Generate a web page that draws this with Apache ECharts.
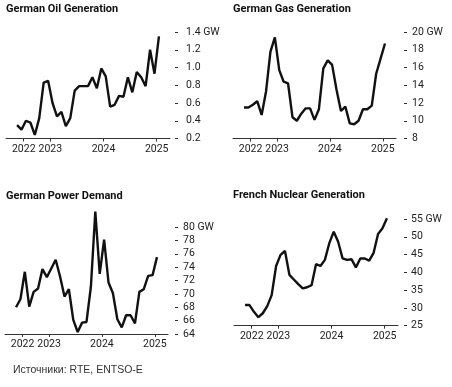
<!DOCTYPE html>
<html>
<head>
<meta charset="utf-8">
<script src="https://cdn.jsdelivr.net/npm/echarts@6/dist/echarts.min.js"></script>
<style>
html,body{margin:0;padding:0;background:#fff;}
#c{width:452px;height:387px;}
</style>
</head>
<body>
<div id="c"></div>
<script>
// Monthly data, May 2022 .. Jan 2025
var months = ['2022-05','2022-06','2022-07','2022-08','2022-09','2022-10','2022-11','2022-12',
  '2023-01','2023-02','2023-03','2023-04','2023-05','2023-06','2023-07','2023-08','2023-09','2023-10','2023-11','2023-12',
  '2024-01','2024-02','2024-03','2024-04','2024-05','2024-06','2024-07','2024-08','2024-09','2024-10','2024-11','2024-12',
  '2025-01'];
var oilValues = [0.35,0.30,0.40,0.38,0.24,0.43,0.83,0.85,0.60,0.45,0.50,0.34,0.43,0.74,0.79,0.79,0.79,0.89,0.765,0.99,0.90,0.56,0.58,0.68,0.67,0.89,0.72,0.95,0.89,0.79,1.20,0.93,1.35];
var gasValues = [11.5,11.5,11.8,12.2,10.65,13.3,17.8,19.4,15.7,14.4,14.2,10.4,10.0,10.8,11.4,11.4,10.1,11.3,15.9,16.8,16.3,13.5,11.1,11.6,9.7,9.6,10.0,11.3,11.3,11.7,15.3,17.0,18.7];
var demandValues = [68.0,69.2,73.3,68.1,70.3,70.8,73.7,72.5,73.8,75.1,72.6,69.6,70.7,66.1,64.3,65.7,65.8,71.1,82.3,73.0,78.1,71.7,70.1,66.2,65.0,66.8,66.8,65.6,70.3,70.7,72.7,72.8,75.5];
var nuclearValues = [30.8,30.8,28.9,27.4,28.5,30.5,33.6,41.8,44.9,46.0,39.3,38.0,36.7,35.5,35.8,36.4,42.3,41.8,43.5,48.2,51.4,48.6,43.9,43.5,43.7,41.4,43.9,43.9,43.3,45.5,50.8,52.4,55.2];
var yearTickLabels = ['2022','2023','2024','2025'];
var yearTickMonths = [-6, 0, 12, 24]; // months from Jan 2023
var titles = ['German Oil Generation','German Gas Generation','German Power Demand','French Nuclear Generation'];
var sourceText = 'Источники: RTE, ENTSO-E';

function monthOffset(m){ var p=m.split('-'); return (parseInt(p[0])-2023)*12 + (parseInt(p[1])-1) + 0.5; }
function pairs(vals){ return vals.map(function(v,i){ return [monthOffset(months[i]), v]; }); }

var FONT = 'Roboto, Inter, sans-serif';
var grids = [
  {left:6, top:32, width:164, height:106.5},
  {left:233, top:32, width:163, height:106.5},
  {left:5, top:227, width:163, height:107},
  {left:234, top:219, width:164, height:106.7}
];
var yCfg = [
  {min:0.2,max:1.4,interval:0.2,dec:1,offset:5,margin:11},
  {min:8,max:20,interval:2,dec:0,offset:8,margin:8},
  {min:64,max:80,interval:2,dec:0,offset:7,margin:8},
  {min:25,max:55,interval:5,dec:0,offset:6,margin:7}
];
var seriesData = [oilValues, gasValues, demandValues, nuclearValues];
var titlePos = [{left:6,top:4},{left:233,top:4},{left:6,top:191},{left:233,top:190}];

var option = {
  animation:false,
  backgroundColor:'#fff',
  title: titles.map(function(t,i){ return {text:t,left:titlePos[i].left,top:titlePos[i].top,padding:0,
      textStyle:{fontFamily:FONT,fontSize:11,fontWeight:'bold',color:'#111'}}; }).concat([
      {text:sourceText,left:13,top:365,padding:0,textStyle:{fontFamily:'Liberation Sans, Arial, sans-serif',fontSize:10.5,fontWeight:'normal',color:'#333'}}]),
  grid: grids,
  xAxis: grids.map(function(g,i){ return {
    type:'value', gridIndex:i, min:-10, max:27,
    splitLine:{show:false},
    axisLine:{show:true,onZero:false,lineStyle:{color:'#333',width:1}},
    axisTick:{show:true,length:3,customValues:yearTickMonths,lineStyle:{color:'#333'}},
    axisLabel:{show:true,customValues:yearTickMonths,margin:5,fontFamily:FONT,fontSize:10.5,color:'#222',
      formatter:function(v){ var k=yearTickMonths.indexOf(v); return k>=0?yearTickLabels[k]:''; }}
  }; }),
  yAxis: yCfg.map(function(c,i){ return {
    type:'value', gridIndex:i, position:'right', offset:c.offset,
    min:c.min, max:c.max, interval:c.interval,
    splitLine:{show:false},
    axisLine:{show:false,onZero:false},
    axisTick:{show:true,length:3,lineStyle:{color:'#333'}},
    axisLabel:{margin:c.margin,fontFamily:FONT,fontSize:10.5,color:'#222',
      formatter:function(v){ var s=v.toFixed(c.dec); return Math.abs(v-c.max)<1e-6 ? s+' GW' : s; }}
  }; }),
  series: seriesData.map(function(d,i){ return {
    type:'line', xAxisIndex:i, yAxisIndex:i, data:pairs(d), showSymbol:false, clip:false,
    lineStyle:{color:'#111',width:2.4}
  }; })
};
echarts.init(document.getElementById('c')).setOption(option);
</script>
</body>
</html>
